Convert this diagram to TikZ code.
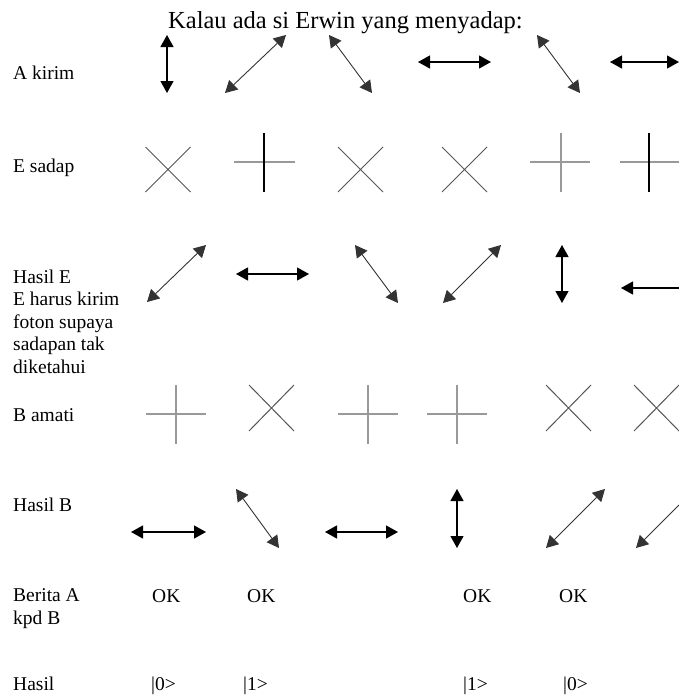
\documentclass[tikz,border=0pt]{standalone}
\usepackage{fontspec}
\setmainfont{Liberation Serif}
\usetikzlibrary{arrows.meta}
\definecolor{xgray}{HTML}{555555}
\definecolor{pgray}{HTML}{999999}
\begin{document}
\begin{tikzpicture}[x=1pt,y=-1pt,
  tip/.tip={Triangle[length=12pt,width=13pt]},
  dbl/.style={tip-tip, line width=1.2pt, black},
  dbld/.style={tip-tip, line width=0.9pt, black!80},
  lft/.style={tip-, line width=1.2pt, black},
  lftd/.style={tip-, line width=0.9pt, black!80},
  lbl/.style={anchor=base west, inner sep=0pt, font=\fontsize{19.5}{22.5}\selectfont, align=left},
  cell/.style={anchor=base west, inner sep=0pt, font=\fontsize{19.5}{22.5}\selectfont},
  xl/.style={line width=1pt, xgray},
  pl/.style={line width=1.2pt, pgray},
  pk/.style={line width=1.1pt, black}]
\useasboundingbox (0,0) rectangle (679,696);
% title
\node[anchor=base west, inner sep=0pt, font=\fontsize{24.5}{28}\selectfont] (title) at (168,28) {Kalau ada si Erwin yang menyadap:};
% labels (base west of a multi-line node = baseline of its last line)
\node[lbl] (lA) at (13,79) {A kirim};
\node[lbl] (lE) at (13,172) {E sadap};
\node[lbl] (lHE) at (13,373) {Hasil E\\E harus kirim\\foton supaya\\sadapan tak\\diketahui};
\node[lbl] (lB) at (13,421) {B amati};
\node[lbl] (lHB) at (13,511) {Hasil B};
\node[lbl] (lBer) at (13,624) {Berita A\\kpd B};
\node[lbl] (lH) at (13,690) {Hasil};
% row 1: A kirim
\draw[dbl] (167,35) -- (167,93);
\draw[dbld] (225,93) -- (286,35);
\draw[dbld] (329,35) -- (372,93);
\draw[dbl] (418,62) -- (491,62);
\draw[dbld] (537,35) -- (580,93);
\draw[dbl] (610,62) -- (679,62);
% row 2: E sadap
\draw[xl] (145.5,147) -- (190.5,192) (145.5,192) -- (190.5,147);
\draw[pl] (234,162) -- (295,162); \draw[pk] (264,133) -- (264,192);
\draw[xl] (338,147) -- (383,192) (338,192) -- (383,147);
\draw[xl] (442,147) -- (487,192) (442,192) -- (487,147);
\draw[pl] (530,162) -- (590,162); \draw[pl] (561,133) -- (561,192);
\draw[pl] (620,162) -- (679,162); \draw[pk] (649,133) -- (649,192);
% row 3: Hasil E
\draw[dbld] (147,302) -- (206,245);
\draw[dbl] (236,274) -- (309,274);
\draw[dbld] (355,245) -- (398,303);
\draw[dbld] (443,303) -- (501,245);
\draw[dbl] (562,245) -- (562,303);
\draw[lft] (621,288) -- (679,288);
% row 4: B amati
\draw[pl] (146,414) -- (206,414); \draw[pl] (176,385) -- (176,444);
\draw[xl] (249,385) -- (294,431) (249,431) -- (294,385);
\draw[pl] (338,414) -- (398,414); \draw[pl] (368,385) -- (368,444);
\draw[pl] (427,414) -- (487,414); \draw[pl] (457,385) -- (457,444);
\draw[xl] (546,385) -- (591,431) (546,431) -- (591,385);
\draw[xl] (634,385) -- (679,431) (634,431) -- (679,385);
% row 5: Hasil B
\draw[dbl] (131,532) -- (206,532);
\draw[dbld] (236,489) -- (279,548);
\draw[dbl] (325,532) -- (398,532);
\draw[dbl] (457,489) -- (457,548);
\draw[dbld] (546,548) -- (605,489);
\draw[lftd] (636,548) -- (679,505);
% row 6: Berita
\node[cell] (ok1) at (152,602) {OK};
\node[cell] (ok2) at (247,602) {OK};
\node[cell] (ok3) at (463,602) {OK};
\node[cell] (ok4) at (559,602) {OK};
% row 7: Hasil
\node[cell] (h1) at (151,690) {|0>};
\node[cell] (h2) at (243,690) {|1>};
\node[cell] (h3) at (463,690) {|1>};
\node[cell] (h4) at (563,690) {|0>};
\end{tikzpicture}
\end{document}
